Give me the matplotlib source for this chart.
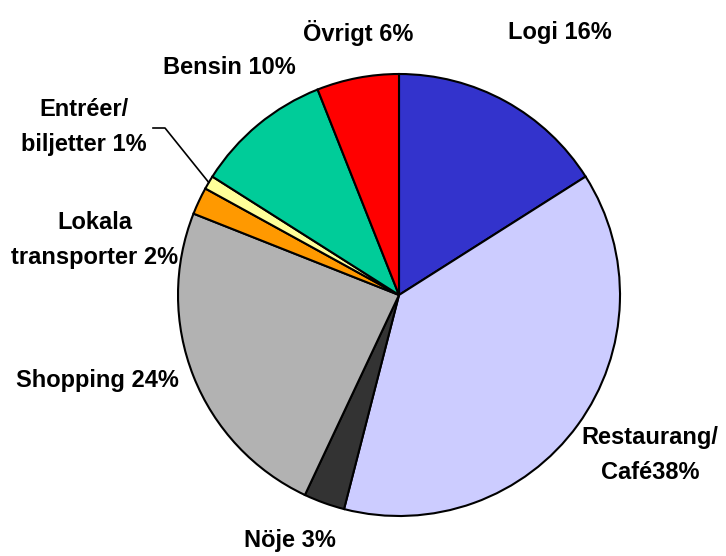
import numpy as np
import matplotlib
matplotlib.use("Agg")
import matplotlib.pyplot as plt

# expense shares, clockwise from 12 o'clock
categories = ["Logi", "Restaurang/\nCafé", "Nöje", "Shopping", "Lokala\ntransporter",
              "Entréer/\nbiljetter", "Bensin", "Övrigt"]
shares = [16, 38, 3, 24, 2, 1, 10, 6]
colors = ["#3333CC", "#CCCCFF", "#333333", "#B2B2B2", "#FF9900",
          "#FFFF99", "#00CC99", "#FF0000"]

label_text = ["Logi 16%", "Restaurang/\nCafé38%", "Nöje 3%", "Shopping 24%",
              "Lokala\ntransporter 2%", "Entréer/\nbiljetter 1%", "Bensin 10%", "Övrigt 6%"]
# label anchor positions in image pixels (x, y from top)
label_pos = [(560, 33), (650, 455), (290, 541), (97, 381),
             (95, 240), (84, 127), (229, 67), (358, 33)]

W, H = 726, 556
cx, cy, r = 399, 295, 221

plt.rcParams["font.family"] = ["Liberation Sans", "DejaVu Sans"]

fig = plt.figure(figsize=(W / 100, H / 100), dpi=100)
ax = fig.add_axes([0, 0, 1, 1])

wedges, _ = ax.pie(shares, colors=colors, startangle=90, counterclock=False,
                   center=(cx, H - cy), radius=r, frame=True,
                   wedgeprops=dict(edgecolor="black", linewidth=1.5))
ax.set_xlim(0, W)
ax.set_ylim(0, H)
ax.set_aspect("equal")
ax.axis("off")

for txt, (x, y) in zip(label_text, label_pos):
    ax.text(x, H - y, txt, ha="center", va="center", fontsize=17,
            fontweight="bold", linespacing=1.7)

# leader line for the tiny Entréer slice
w = wedges[5]
mid = np.deg2rad((w.theta1 + w.theta2) / 2)
ex, ey = cx + r * np.cos(mid), (H - cy) + r * np.sin(mid)
ax.plot([153, 165, ex], [H - 128, H - 128, ey], color="black", lw=1.2)

fig.savefig("out.png", dpi=100)
plt.close(fig)
